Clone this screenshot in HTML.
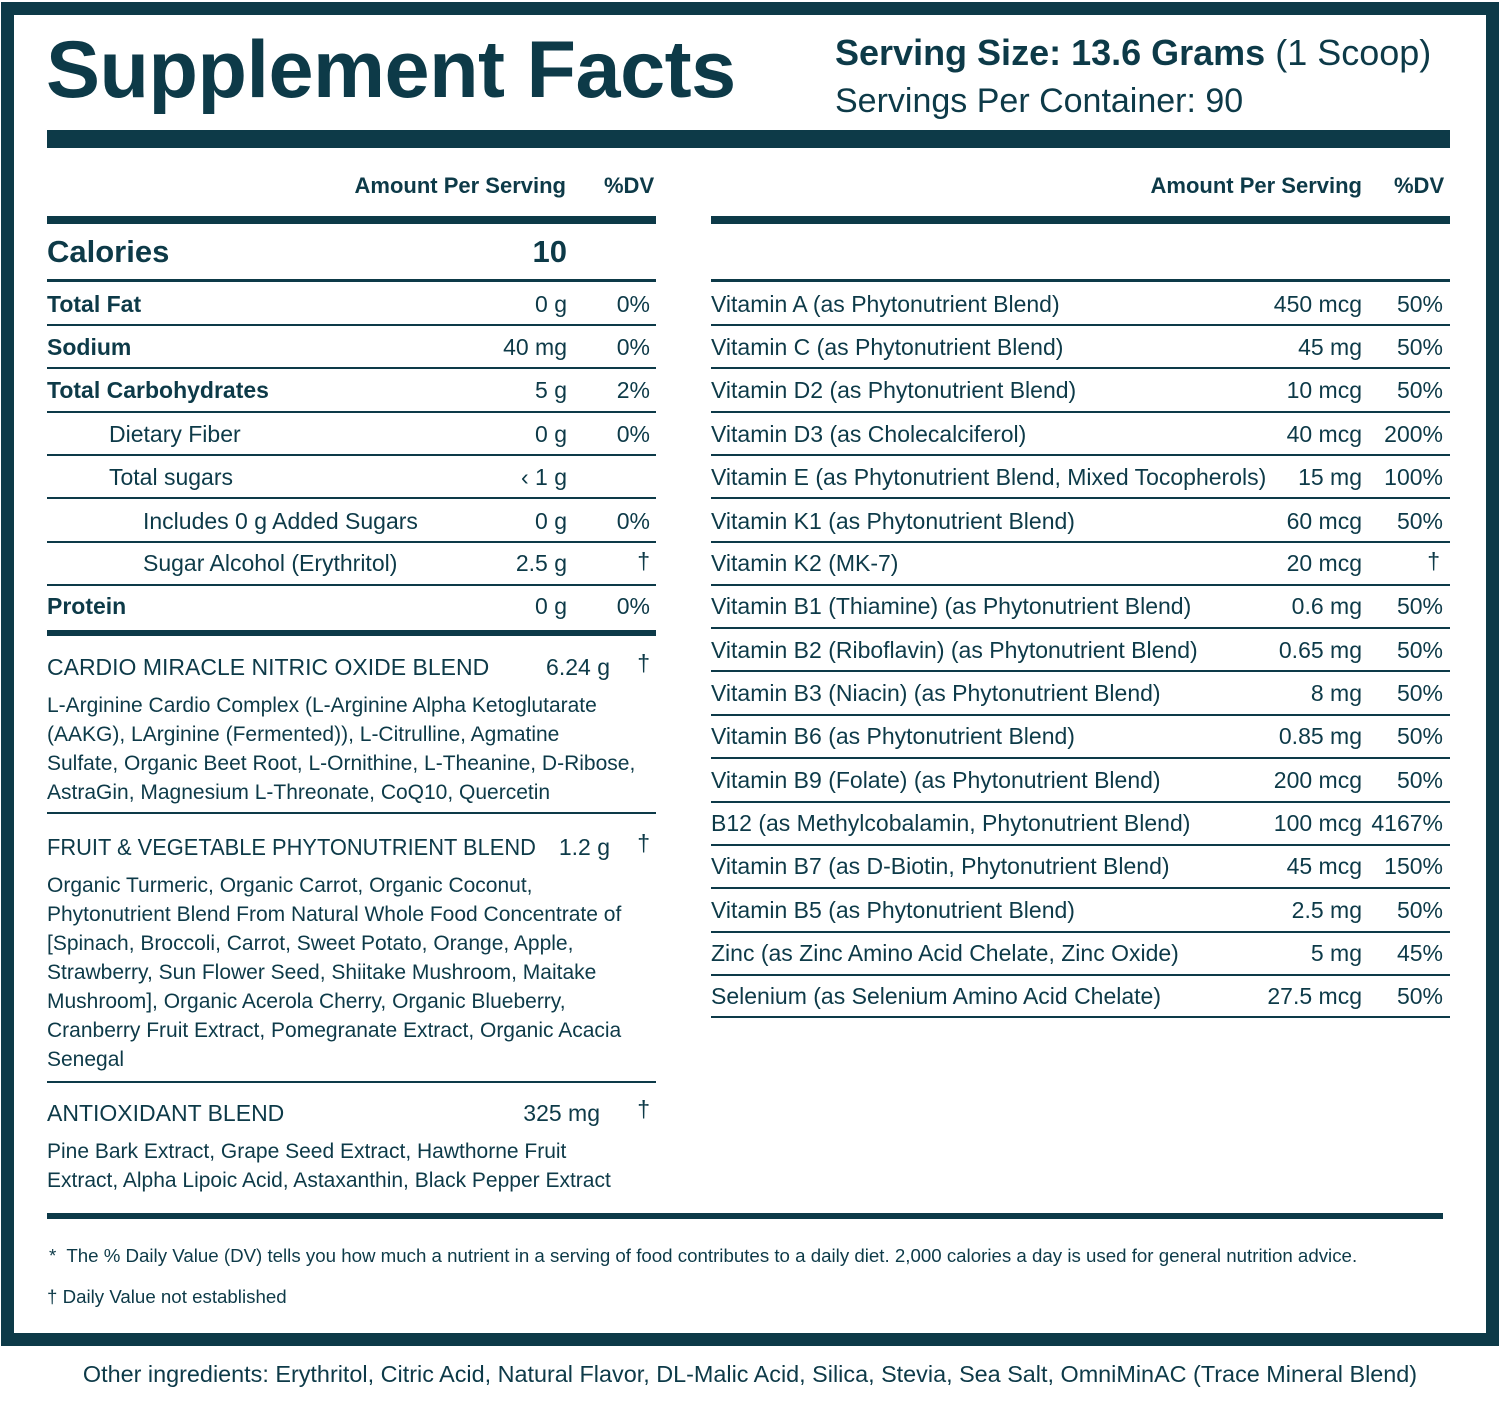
<!DOCTYPE html>
<html><head><meta charset="utf-8"><style>
*{margin:0;padding:0;box-sizing:border-box}
body{width:1500px;height:1410px;background:#fff;position:relative;font-family:"Liberation Sans",sans-serif;color:#0d3a48;overflow:hidden}
.a{position:absolute;white-space:nowrap}
.r{position:absolute;height:2px;background:#0d3a48}
.t{font-size:23px;line-height:28px}
.b{font-weight:bold}
.ra{text-align:right}
.bl{font-size:21px;line-height:29px}
</style></head><body>
<div class="a" style="left:1px;top:2px;width:1498px;height:1344px;border:13px solid #0d3a48"></div>
<div class="a b" style="left:46px;top:22px;font-size:81px;line-height:96px;letter-spacing:-0.5px">Supplement Facts</div>
<div class="a" style="left:835px;top:32px;font-size:36px;line-height:42px;transform:scaleX(1.0);transform-origin:left"><b>Serving Size: 13.6 Grams</b> (1 Scoop)</div>
<div class="a" style="left:835px;top:80px;font-size:34px;line-height:42px">Servings Per Container: 90</div>
<div class="r" style="left:47px;top:130px;width:1403px;height:18px"></div>

<div class="a b ra" style="left:300px;width:266px;top:172px;font-size:22px;line-height:28px">Amount Per Serving</div>
<div class="a b" style="left:604px;top:172px;font-size:22px;line-height:28px">%DV</div>
<div class="a b ra" style="left:1000px;width:362px;top:172px;font-size:22px;line-height:28px">Amount Per Serving</div>
<div class="a b" style="left:1394px;top:172px;font-size:22px;line-height:28px">%DV</div>
<div class="r" style="left:47px;top:216px;width:609px;height:8px"></div>
<div class="r" style="left:711px;top:216px;width:739px;height:8px"></div>

<div class="a b" style="left:47px;top:234px;font-size:31px;line-height:36px">Calories</div>
<div class="a b" style="left:470px;width:97px;top:234px;font-size:31px;line-height:36px;text-align:right">10</div>
<div class="r" style="left:47px;top:279px;width:609px;height:3px"></div>
<div class="r" style="left:711px;top:279px;width:739px;height:3px"></div>

<!-- left rows -->
<div class="a t b" style="left:47px;top:290px">Total Fat</div><div class="a t ra" style="left:400px;width:167px;top:290px">0 g</div><div class="a t ra" style="left:580px;width:70px;top:290px">0%</div>
<div class="r" style="left:47px;top:324px;width:609px"></div>
<div class="a t b" style="left:47px;top:333px">Sodium</div><div class="a t ra" style="left:400px;width:167px;top:333px">40 mg</div><div class="a t ra" style="left:580px;width:70px;top:333px">0%</div>
<div class="r" style="left:47px;top:367px;width:609px"></div>
<div class="a t b" style="left:47px;top:376px">Total Carbohydrates</div><div class="a t ra" style="left:400px;width:167px;top:376px">5 g</div><div class="a t ra" style="left:580px;width:70px;top:376px">2%</div>
<div class="r" style="left:47px;top:411px;width:609px"></div>
<div class="a t" style="left:109px;top:420px">Dietary Fiber</div><div class="a t ra" style="left:400px;width:167px;top:420px">0 g</div><div class="a t ra" style="left:580px;width:70px;top:420px">0%</div>
<div class="r" style="left:47px;top:454px;width:609px"></div>
<div class="a t" style="left:109px;top:463px">Total sugars</div><div class="a t ra" style="left:400px;width:167px;top:463px">‹ 1 g</div>
<div class="r" style="left:47px;top:497px;width:609px"></div>
<div class="a t" style="left:143px;top:507px">Includes 0 g Added Sugars</div><div class="a t ra" style="left:400px;width:167px;top:507px">0 g</div><div class="a t ra" style="left:580px;width:70px;top:507px">0%</div>
<div class="r" style="left:47px;top:541px;width:609px"></div>
<div class="a t" style="left:143px;top:549px">Sugar Alcohol (Erythritol)</div><div class="a t ra" style="left:400px;width:167px;top:549px">2.5 g</div><div class="a t ra" style="left:580px;width:70px;top:547px">†</div>
<div class="r" style="left:47px;top:584px;width:609px"></div>
<div class="a t b" style="left:47px;top:592px">Protein</div><div class="a t ra" style="left:400px;width:167px;top:592px">0 g</div><div class="a t ra" style="left:580px;width:70px;top:592px">0%</div>
<div class="r" style="left:47px;top:630px;width:609px;height:6px"></div>

<div class="a t" style="left:47px;top:653px">CARDIO MIRACLE NITRIC OXIDE BLEND</div><div class="a t ra" style="left:450px;width:160px;top:653px">6.24 g</div><div class="a t ra" style="left:580px;width:70px;top:649px">†</div>
<div class="a bl" style="left:47px;top:691px">L-Arginine Cardio Complex (L-Arginine Alpha Ketoglutarate<br>(AAKG), LArginine (Fermented)), L-Citrulline, Agmatine<br>Sulfate, Organic Beet Root, L-Ornithine, L-Theanine, D-Ribose,<br>AstraGin, Magnesium L-Threonate, CoQ10, Quercetin</div>
<div class="r" style="left:47px;top:812px;width:609px"></div>

<div class="a t" style="left:47px;top:833px;transform:scaleX(0.95);transform-origin:left">FRUIT &amp; VEGETABLE PHYTONUTRIENT BLEND</div><div class="a t ra" style="left:450px;width:160px;top:833px">1.2 g</div><div class="a t ra" style="left:580px;width:70px;top:829px">†</div>
<div class="a bl" style="left:47px;top:871px">Organic Turmeric, Organic Carrot, Organic Coconut,<br>Phytonutrient Blend From Natural Whole Food Concentrate of<br>[Spinach, Broccoli, Carrot, Sweet Potato, Orange, Apple,<br>Strawberry, Sun Flower Seed, Shiitake Mushroom, Maitake<br>Mushroom], Organic Acerola Cherry, Organic Blueberry,<br>Cranberry Fruit Extract, Pomegranate Extract, Organic Acacia<br>Senegal</div>
<div class="r" style="left:47px;top:1081px;width:609px"></div>

<div class="a t" style="left:47px;top:1099px">ANTIOXIDANT BLEND</div><div class="a t ra" style="left:450px;width:150px;top:1099px">325 mg</div><div class="a t ra" style="left:580px;width:70px;top:1095px">†</div>
<div class="a bl" style="left:47px;top:1137px">Pine Bark Extract, Grape Seed Extract, Hawthorne Fruit<br>Extract, Alpha Lipoic Acid, Astaxanthin, Black Pepper Extract</div>

<!-- right rows -->
<div class="a t" style="left:711px;top:290px">Vitamin A (as Phytonutrient Blend)</div><div class="a t ra" style="left:1200px;width:162px;top:290px">450 mcg</div><div class="a t ra" style="left:1370px;width:73px;top:290px">50%</div>
<div class="r" style="left:711px;top:324px;width:739px"></div>
<div class="a t" style="left:711px;top:333px">Vitamin C (as Phytonutrient Blend)</div><div class="a t ra" style="left:1200px;width:162px;top:333px">45 mg</div><div class="a t ra" style="left:1370px;width:73px;top:333px">50%</div>
<div class="r" style="left:711px;top:367px;width:739px"></div>
<div class="a t" style="left:711px;top:376px">Vitamin D2 (as Phytonutrient Blend)</div><div class="a t ra" style="left:1200px;width:162px;top:376px">10 mcg</div><div class="a t ra" style="left:1370px;width:73px;top:376px">50%</div>
<div class="r" style="left:711px;top:411px;width:739px"></div>
<div class="a t" style="left:711px;top:420px">Vitamin D3 (as Cholecalciferol)</div><div class="a t ra" style="left:1200px;width:162px;top:420px">40 mcg</div><div class="a t ra" style="left:1370px;width:73px;top:420px">200%</div>
<div class="r" style="left:711px;top:454px;width:739px"></div>
<div class="a t" style="left:711px;top:463px">Vitamin E (as Phytonutrient Blend, Mixed Tocopherols)</div><div class="a t ra" style="left:1200px;width:162px;top:463px">15 mg</div><div class="a t ra" style="left:1370px;width:73px;top:463px">100%</div>
<div class="r" style="left:711px;top:497px;width:739px"></div>
<div class="a t" style="left:711px;top:507px">Vitamin K1 (as Phytonutrient Blend)</div><div class="a t ra" style="left:1200px;width:162px;top:507px">60 mcg</div><div class="a t ra" style="left:1370px;width:73px;top:507px">50%</div>
<div class="r" style="left:711px;top:541px;width:739px"></div>
<div class="a t" style="left:711px;top:549px">Vitamin K2 (MK-7)</div><div class="a t ra" style="left:1200px;width:162px;top:549px">20 mcg</div><div class="a t ra" style="left:1370px;width:70px;top:547px">†</div>
<div class="r" style="left:711px;top:584px;width:739px"></div>
<div class="a t" style="left:711px;top:592px">Vitamin B1 (Thiamine) (as Phytonutrient Blend)</div><div class="a t ra" style="left:1200px;width:162px;top:592px">0.6 mg</div><div class="a t ra" style="left:1370px;width:73px;top:592px">50%</div>
<div class="r" style="left:711px;top:627px;width:739px"></div>
<div class="a t" style="left:711px;top:636px">Vitamin B2 (Riboflavin) (as Phytonutrient Blend)</div><div class="a t ra" style="left:1200px;width:162px;top:636px">0.65 mg</div><div class="a t ra" style="left:1370px;width:73px;top:636px">50%</div>
<div class="r" style="left:711px;top:670px;width:739px"></div>
<div class="a t" style="left:711px;top:679px">Vitamin B3 (Niacin) (as Phytonutrient Blend)</div><div class="a t ra" style="left:1200px;width:162px;top:679px">8 mg</div><div class="a t ra" style="left:1370px;width:73px;top:679px">50%</div>
<div class="r" style="left:711px;top:714px;width:739px"></div>
<div class="a t" style="left:711px;top:722px">Vitamin B6 (as Phytonutrient Blend)</div><div class="a t ra" style="left:1200px;width:162px;top:722px">0.85 mg</div><div class="a t ra" style="left:1370px;width:73px;top:722px">50%</div>
<div class="r" style="left:711px;top:757px;width:739px"></div>
<div class="a t" style="left:711px;top:766px">Vitamin B9 (Folate) (as Phytonutrient Blend)</div><div class="a t ra" style="left:1200px;width:162px;top:766px">200 mcg</div><div class="a t ra" style="left:1370px;width:73px;top:766px">50%</div>
<div class="r" style="left:711px;top:801px;width:739px"></div>
<div class="a t" style="left:711px;top:809px">B12 (as Methylcobalamin, Phytonutrient Blend)</div><div class="a t ra" style="left:1200px;width:162px;top:809px">100 mcg</div><div class="a t ra" style="left:1370px;width:73px;top:809px">4167%</div>
<div class="r" style="left:711px;top:844px;width:739px"></div>
<div class="a t" style="left:711px;top:852px">Vitamin B7 (as D-Biotin, Phytonutrient Blend)</div><div class="a t ra" style="left:1200px;width:162px;top:852px">45 mcg</div><div class="a t ra" style="left:1370px;width:73px;top:852px">150%</div>
<div class="r" style="left:711px;top:887px;width:739px"></div>
<div class="a t" style="left:711px;top:896px">Vitamin B5 (as Phytonutrient Blend)</div><div class="a t ra" style="left:1200px;width:162px;top:896px">2.5 mg</div><div class="a t ra" style="left:1370px;width:73px;top:896px">50%</div>
<div class="r" style="left:711px;top:931px;width:739px"></div>
<div class="a t" style="left:711px;top:939px">Zinc (as Zinc Amino Acid Chelate, Zinc Oxide)</div><div class="a t ra" style="left:1200px;width:162px;top:939px">5 mg</div><div class="a t ra" style="left:1370px;width:73px;top:939px">45%</div>
<div class="r" style="left:711px;top:974px;width:739px"></div>
<div class="a t" style="left:711px;top:982px">Selenium (as Selenium Amino Acid Chelate)</div><div class="a t ra" style="left:1200px;width:162px;top:982px">27.5 mcg</div><div class="a t ra" style="left:1370px;width:73px;top:982px">50%</div>
<div class="r" style="left:711px;top:1016px;width:739px"></div>

<div class="r" style="left:47px;top:1213px;width:1396px;height:6px"></div>
<div class="a" style="left:49px;top:1244px;font-size:18.7px;line-height:24px">*&nbsp; The % Daily Value (DV) tells you how much a nutrient in a serving of food contributes to a daily diet. 2,000 calories a day is used for general nutrition advice.</div>
<div class="a" style="left:47px;top:1285px;font-size:18.7px;line-height:24px">† Daily Value not established</div>
<div class="a" style="left:0;width:1500px;top:1360px;font-size:23.4px;line-height:28px;text-align:center">Other ingredients: Erythritol, Citric Acid, Natural Flavor, DL-Malic Acid, Silica, Stevia, Sea Salt, OmniMinAC (Trace Mineral Blend)</div>
</body></html>
